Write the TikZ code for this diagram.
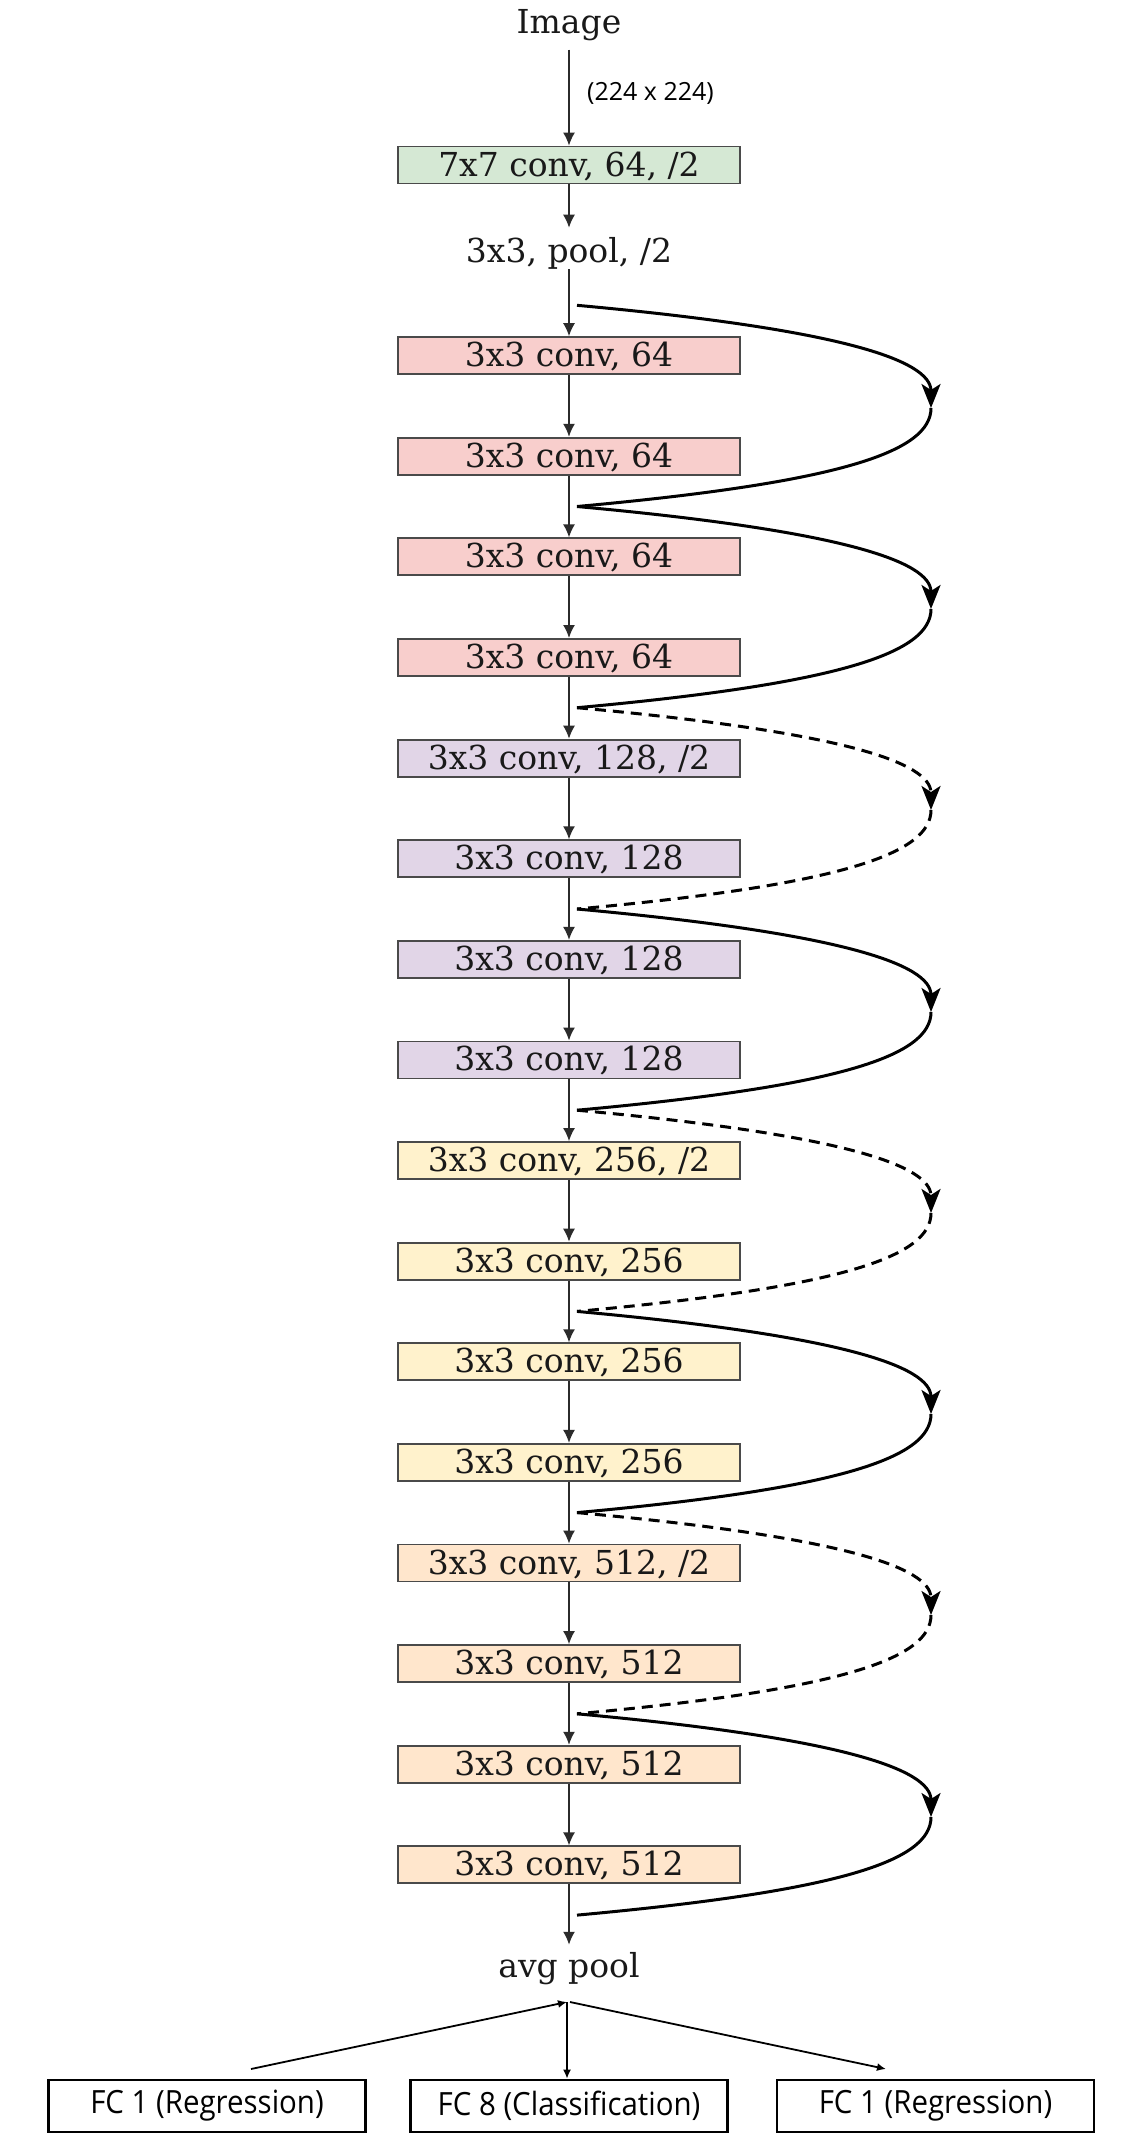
\documentclass[tikz,border=0pt]{standalone}
\usepackage{fontspec}
\setmainfont{DejaVu Serif}
\newfontfamily\labfont{Open Sans}
\newfontfamily\fcfont[FakeStretch=0.92]{Open Sans}
\usetikzlibrary{arrows.meta}
\definecolor{cgreen}{HTML}{D5E8D4}
\definecolor{cpink}{HTML}{F8CECC}
\definecolor{cpurple}{HTML}{E1D5E7}
\definecolor{cyellow}{HTML}{FFF2CC}
\definecolor{corange}{HTML}{FFE6CC}
\definecolor{bordergray}{HTML}{4A4A4A}
\definecolor{linegray}{HTML}{2B2B2B}
\begin{document}
\begin{tikzpicture}[x=1pt,y=-1pt,
  layer/.style={draw=bordergray, line width=1.8pt, minimum width=342pt, minimum height=37pt,
    inner sep=0pt, text height=24pt, text depth=2pt, text=black!90, font=\fontsize{33}{38}\selectfont},
  plain/.style={inner sep=0pt, anchor=base, text=black!90, font=\fontsize{33}{38}\selectfont},
  flow/.style={draw=linegray, line width=1.6pt, -{Latex[length=13pt,width=12pt]}},
  skipsolid/.style={draw=black, line width=3pt},
  skipdashed/.style={skipsolid, dash pattern=on 11pt off 7pt},
  skiptip/.style={-{Stealth[length=24pt,width=19pt,inset=6pt]}},
  fcbox/.style={draw=black, line width=2.6pt, minimum width=317pt, minimum height=52pt,
    inner sep=0pt, font=\fcfont\fontsize{32}{38}\selectfont},
  head/.style={draw=black, line width=1.8pt},
  headtip/.style={-{Latex[length=9pt,width=8pt]}}
]
\useasboundingbox (0,0) rectangle (1137,2153);
\fill[white] (0,0) rectangle (1137,2153);

% main column
\node[plain] (img) at (569,33) {Image};
\node[inner sep=0pt, anchor=base west, font=\labfont\fontsize{25}{29}\selectfont] (size) at (587,100) {(224 x 224)};
\node[layer, fill=cgreen] (c1) at (569,165) {7x7 conv, 64, /2};
\node[plain] (pool) at (569,262) {3x3, pool, /2};
\node[layer, fill=cpink] (b1) at (569,355.6) {3x3 conv, 64};
\node[layer, fill=cpink] (b2) at (569,456.2) {3x3 conv, 64};
\node[layer, fill=cpink] (b3) at (569,556.8) {3x3 conv, 64};
\node[layer, fill=cpink] (b4) at (569,657.4) {3x3 conv, 64};
\node[layer, fill=cpurple] (b5) at (569,758.1) {3x3 conv, 128, /2};
\node[layer, fill=cpurple] (b6) at (569,858.7) {3x3 conv, 128};
\node[layer, fill=cpurple] (b7) at (569,959.3) {3x3 conv, 128};
\node[layer, fill=cpurple] (b8) at (569,1059.9) {3x3 conv, 128};
\node[layer, fill=cyellow] (b9) at (569,1160.5) {3x3 conv, 256, /2};
\node[layer, fill=cyellow] (b10) at (569,1261.1) {3x3 conv, 256};
\node[layer, fill=cyellow] (b11) at (569,1361.7) {3x3 conv, 256};
\node[layer, fill=cyellow] (b12) at (569,1462.3) {3x3 conv, 256};
\node[layer, fill=corange] (b13) at (569,1563.0) {3x3 conv, 512, /2};
\node[layer, fill=corange] (b14) at (569,1663.5) {3x3 conv, 512};
\node[layer, fill=corange] (b15) at (569,1764.2) {3x3 conv, 512};
\node[layer, fill=corange] (b16) at (569,1864.8) {3x3 conv, 512};
\node[plain] (avg) at (569,1977) {avg pool};

% straight flow
\draw[flow, shorten <=9pt] (img) -- (c1);
\draw[flow, shorten >=9pt] (c1) -- (pool);
\draw[flow] (pool) -- (b1);
\foreach \a/\b in {b1/b2,b2/b3,b3/b4,b4/b5,b5/b6,b6/b7,b7/b8,b8/b9,b9/b10,b10/b11,b11/b12,b12/b13,b13/b14,b14/b15,b15/b16}
  \draw[flow] (\a) -- (\b);
\draw[flow, shorten >=7pt] (b16) -- (avg);

% skip connections
\coordinate (s0) at (577,305.3);
\coordinate (s1) at (577,506.5);
\coordinate (s2) at (577,707.7);
\coordinate (s3) at (577,909.0);
\coordinate (s4) at (577,1110.2);
\coordinate (s5) at (577,1311.4);
\coordinate (s6) at (577,1512.6);
\coordinate (s7) at (577,1713.8);
\coordinate (s8) at (577,1915.1);
\coordinate (m0) at (931,408);
\coordinate (m1) at (931,609);
\coordinate (m2) at (931,810);
\coordinate (m3) at (931,1012);
\coordinate (m4) at (931,1213);
\coordinate (m5) at (931,1414);
\coordinate (m6) at (931,1615);
\coordinate (m7) at (931,1817);

\foreach \s/\m/\e/\st in {s0/m0/s1/skipsolid, s1/m1/s2/skipsolid, s2/m2/s3/skipdashed,
    s3/m3/s4/skipsolid, s4/m4/s5/skipdashed, s5/m5/s6/skipsolid, s6/m6/s7/skipdashed, s7/m7/s8/skipsolid}{
  \draw[\st, skiptip] (\s) .. controls ([xshift=263pt,yshift=-24pt]\s) and ([yshift=48pt]\m) .. (\m);
  \draw[\st] (\m) .. controls ([yshift=-44pt]\m) and ([xshift=263pt,yshift=24pt]\e) .. (\e);
}

% heads
\node[fcbox] (fca) at (207,2106) {FC 1 (Regression)};
\node[fcbox] (fcb) at (569,2106) {FC 8 (Classification)};
\node[fcbox] (fcc) at (935.5,2106) {FC 1 (Regression)};
\coordinate (apex) at (567,2002);
\coordinate (lstart) at (251,2069);
\coordinate (rend) at (886,2069);
\draw[head, headtip] (lstart) -- (apex);
\draw[head, headtip] (apex) -- (apex |- fcb.north);
\draw[head, headtip] ([xshift=3pt]apex) -- (rend);
\end{tikzpicture}
\end{document}
